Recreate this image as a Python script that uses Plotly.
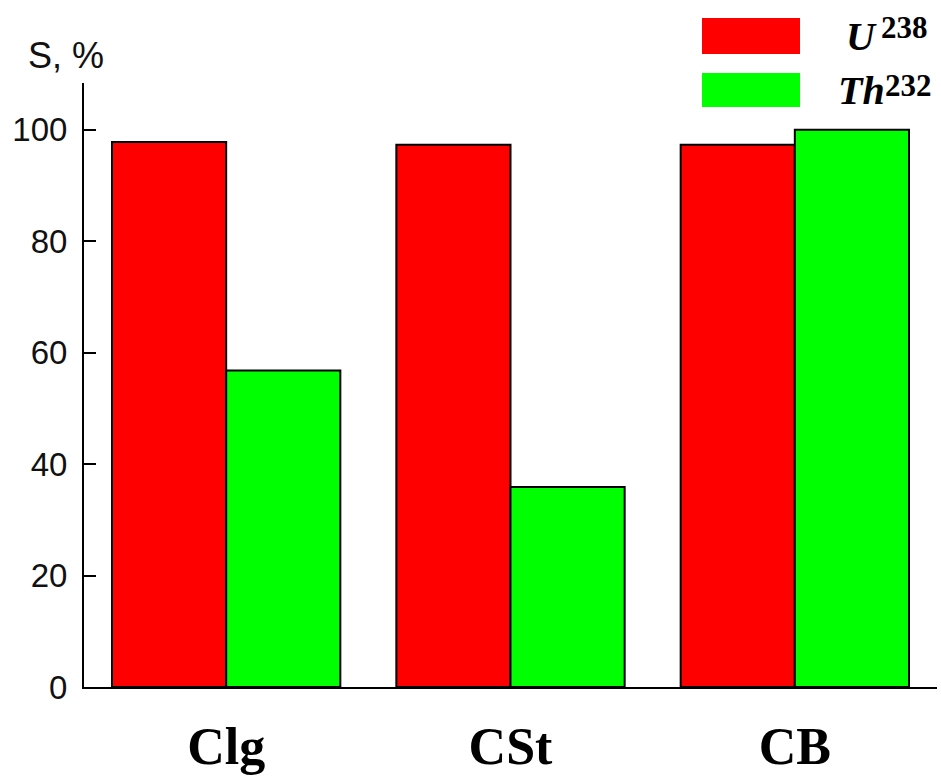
import plotly.graph_objects as go

# Sorbent samples and removal degree S (%) for each radionuclide
categories = ["Clg", "CSt", "CB"]
u238 = [97.8, 97.3, 97.3]
th232 = [56.8, 35.9, 100.0]
y_ticks = [0, 20, 40, 60, 80, 100]

RED = "#FF0000"
GREEN = "#00FF00"

fig = go.Figure()
fig.add_trace(go.Bar(x=categories, y=u238, name="U238", marker=dict(color=RED, line=dict(color="black", width=2)), showlegend=False))
fig.add_trace(go.Bar(x=categories, y=th232, name="Th232", marker=dict(color=GREEN, line=dict(color="black", width=2)), showlegend=False))

fig.update_layout(
    width=941, height=778, autosize=False,
    margin=dict(l=84, r=4, t=83, b=91),
    paper_bgcolor="white", plot_bgcolor="white",
    barmode="group", bargap=0.197, bargroupgap=0,
    xaxis=dict(
        range=[-0.5, 2.5], showline=True, linecolor="black", linewidth=2,
        showgrid=False, ticks="", zeroline=False, automargin=False,
        tickfont=dict(family="Liberation Serif", size=52, color="black", weight="bold"),
        ticklabelstandoff=13,
    ),
    yaxis=dict(
        range=[0, 108.4], showline=True, linecolor="black", linewidth=2,
        showgrid=False, zeroline=False, tickvals=y_ticks, automargin=False,
        ticks="inside", ticklen=12, tickwidth=2, tickcolor="black",
        tickfont=dict(family="Liberation Sans", size=33, color="#111111"),
        ticklabelstandoff=8,
    ),
)

# Axis title
fig.add_annotation(x=-0.068, y=1.046, xref="paper", yref="paper", xanchor="left", yanchor="middle",
                   text="S, %", showarrow=False, font=dict(family="Liberation Sans", size=36, color="#111111"))

# Legend swatches with symbol and mass number labels
legend_items = [
    # symbol, mass number, colour, swatch top/bottom, symbol x/y, number x/y
    ("U", "238", RED, 1.1076, 1.048, 0.8915, 1.0762, 0.9325, 1.0925),
    ("Th", "232", GREEN, 1.0166, 0.9603, 0.8815, 0.9868, 0.9372, 0.9965),
]
for sym, num, color, y_top, y_bot, sx, sy, nx, ny in legend_items:
    fig.add_shape(type="rect", xref="paper", yref="paper", x0=0.7245, x1=0.8394, y0=y_bot, y1=y_top,
                  fillcolor=color, line=dict(width=0), layer="above")
    fig.add_annotation(x=sx, y=sy, xref="paper", yref="paper", xanchor="left", yanchor="middle",
                       text="<b><i>" + sym + "</i></b>", showarrow=False,
                       font=dict(family="Liberation Serif", size=40, color="black"))
    fig.add_annotation(x=nx, y=ny, xref="paper", yref="paper", xanchor="left", yanchor="middle",
                       text="<b>" + num + "</b>", showarrow=False,
                       font=dict(family="Liberation Serif", size=31, color="black"))

fig.write_html("out.html")
